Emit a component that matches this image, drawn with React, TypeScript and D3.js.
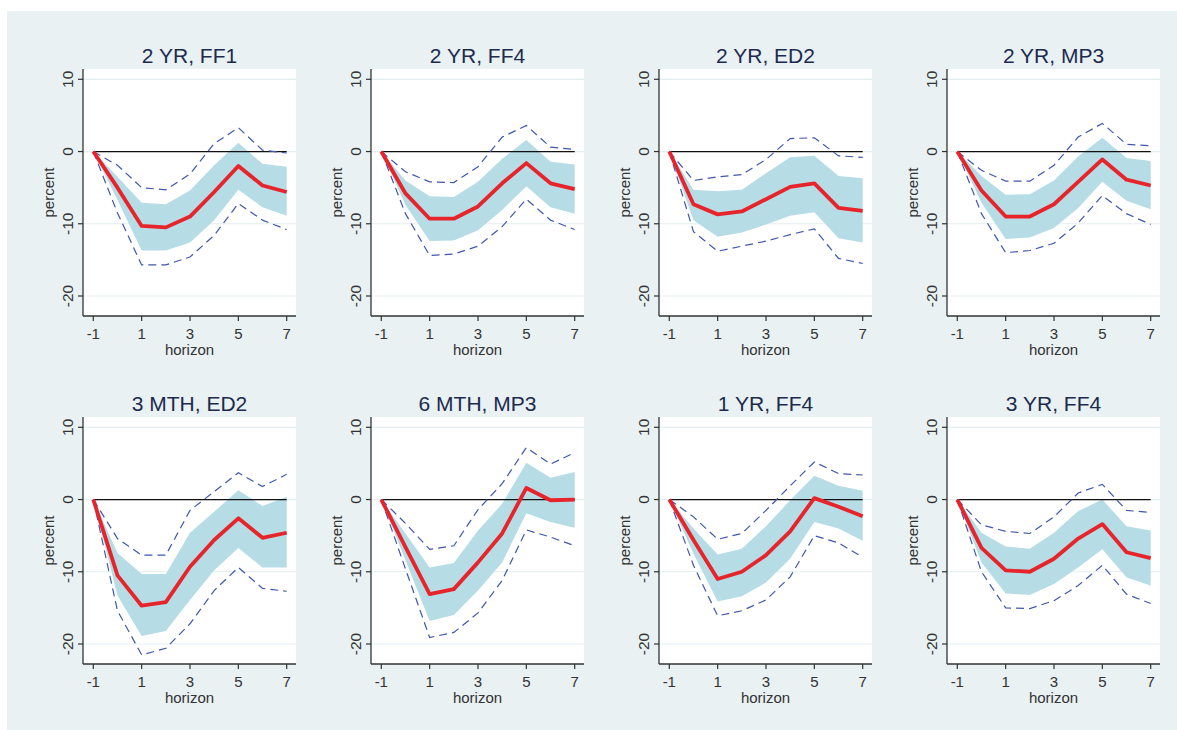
import React, { useEffect, useRef } from "react";
import * as d3 from "d3";

const horizon = [-1, 0, 1, 2, 3, 4, 5, 6, 7];
const xTicks = [-1, 1, 3, 5, 7];
const yTicks = [10, 0, -10, -20];
const titles = [
  "2 YR, FF1", "2 YR, FF4", "2 YR, ED2", "2 YR, MP3",
  "3 MTH, ED2", "6 MTH, MP3", "1 YR, FF4", "3 YR, FF4",
];

// point estimate (red)
const irf = [
  [0, -5.0, -10.3, -10.5, -9.0, -5.6, -2.0, -4.7, -5.6],
  [0, -5.8, -9.3, -9.3, -7.6, -4.4, -1.6, -4.4, -5.2],
  [0, -7.3, -8.7, -8.3, -6.6, -4.9, -4.4, -7.8, -8.2],
  [0, -5.4, -9.0, -9.0, -7.3, -4.2, -1.1, -3.9, -4.7],
  [0, -10.5, -14.7, -14.2, -9.3, -5.6, -2.6, -5.3, -4.6],
  [0, -6.6, -13.1, -12.4, -8.7, -4.7, 1.6, -0.1, 0.0],
  [0, -5.6, -11.0, -10.0, -7.7, -4.4, 0.2, -1.0, -2.3],
  [0, -6.7, -9.8, -10.0, -8.2, -5.4, -3.4, -7.3, -8.1],
];
// shaded band upper
const bandHi = [
  [0, -3.5, -7.1, -7.3, -5.4, -1.9, 1.2, -1.7, -2.1],
  [0, -4.0, -6.2, -6.3, -4.2, -1.0, 1.6, -1.4, -1.8],
  [0, -5.3, -5.5, -5.3, -3.0, -0.8, -0.6, -3.4, -3.7],
  [0, -3.4, -6.0, -5.9, -4.0, -0.7, 1.9, -0.9, -1.3],
  [0, -7.4, -10.3, -10.3, -4.6, -1.7, 1.3, -0.9, 0.4],
  [0, -4.7, -9.4, -8.8, -4.3, -0.6, 5.1, 3.0, 3.8],
  [0, -4.0, -7.6, -6.8, -3.7, -0.1, 3.3, 1.9, 1.2],
  [0, -4.6, -6.5, -6.8, -4.6, -1.6, 0.0, -3.7, -4.3],
];
// shaded band lower
const bandLo = [
  [0, -6.7, -13.7, -13.7, -12.6, -9.5, -5.3, -7.7, -8.9],
  [0, -7.4, -12.4, -12.3, -10.9, -8.1, -4.8, -7.7, -8.6],
  [0, -9.5, -11.8, -11.2, -10.1, -8.9, -8.4, -12.0, -12.6],
  [0, -7.1, -12.1, -11.9, -10.6, -7.8, -4.2, -6.8, -8.0],
  [0, -13.3, -18.9, -18.2, -13.9, -9.8, -6.7, -9.4, -9.4],
  [0, -8.4, -16.8, -16.0, -12.6, -8.7, -1.9, -3.1, -3.9],
  [0, -7.5, -14.1, -13.4, -11.5, -8.2, -3.1, -4.0, -5.7],
  [0, -8.7, -13.0, -13.2, -11.7, -9.4, -6.9, -10.8, -11.9],
];
// dashed upper
const ciHi = [
  [0, -1.9, -5.0, -5.3, -3.1, 1.1, 3.3, 0.2, -0.2],
  [0, -2.8, -4.2, -4.3, -2.1, 2.0, 3.6, 0.6, 0.3],
  [0, -4.0, -3.5, -3.2, -1.1, 1.8, 1.9, -0.6, -0.8],
  [0, -2.6, -4.1, -4.1, -1.9, 2.0, 3.9, 1.0, 0.8],
  [0, -5.4, -7.7, -7.7, -1.5, 1.1, 3.7, 1.8, 3.5],
  [0, -3.3, -6.9, -6.4, -1.4, 2.2, 7.2, 4.9, 6.5],
  [0, -2.4, -5.5, -4.7, -1.5, 1.9, 5.2, 3.6, 3.4],
  [0, -3.5, -4.4, -4.7, -2.4, 0.9, 2.1, -1.5, -1.8],
];
// dashed lower
const ciLo = [
  [0, -8.5, -15.7, -15.7, -14.6, -11.6, -7.2, -9.5, -10.8],
  [0, -8.6, -14.4, -14.2, -13.1, -10.4, -6.6, -9.5, -10.8],
  [0, -11.1, -13.8, -13.1, -12.4, -11.5, -10.7, -14.8, -15.5],
  [0, -8.6, -14.0, -13.7, -12.7, -9.9, -6.1, -8.6, -10.1],
  [0, -15.4, -21.5, -20.6, -17.2, -12.6, -9.4, -12.3, -12.7],
  [0, -9.6, -19.1, -18.4, -15.7, -11.2, -4.2, -5.2, -6.4],
  [0, -9.1, -16.1, -15.4, -13.9, -10.7, -5.0, -6.0, -8.0],
  [0, -10.0, -15.0, -15.1, -14.0, -11.9, -9.1, -13.1, -14.4],
];

const W = 1177;
const H = 730;
const colLeft = [83, 371, 659, 947];
const rowTop = [69, 417];
const plotW = 213;
const plotH = 247;
const FONT = "'Liberation Sans', Arial, sans-serif";

export default function App() {
  const ref = useRef<SVGSVGElement>(null);
  useEffect(() => {
    const svg = d3.select(ref.current);
    svg.selectAll("*").remove();
    svg.append("rect").attr("width", W).attr("height", H).attr("fill", "#ffffff");
    svg.append("rect").attr("x", 7).attr("y", 11).attr("width", W - 7).attr("height", H - 11).attr("fill", "#e9f1f3");

    titles.forEach((title, i) => {
      const left = colLeft[i % 4];
      const top = rowTop[Math.floor(i / 4)];
      const x = d3.scaleLinear().domain([-1, 7]).range([left + 10.3, left + 203.7]);
      const y = d3.scaleLinear().domain([10, -20]).range([top + 10.3, top + 227]);
      const g = svg.append("g");

      g.append("rect").attr("x", left).attr("y", top).attr("width", plotW).attr("height", plotH).attr("fill", "#ffffff");

      // gridlines
      g.selectAll(".grid").data(yTicks).join("line")
        .attr("x1", left).attr("x2", left + plotW)
        .attr("y1", (d) => y(d)).attr("y2", (d) => y(d))
        .attr("stroke", "#e3eef1").attr("stroke-width", 1.2);

      // band
      const area = d3.area<number>()
        .x((d) => x(d))
        .y0((_, j) => y(bandLo[i][j]))
        .y1((_, j) => y(bandHi[i][j]));
      g.append("path").attr("d", area(horizon)).attr("fill", "#b6dce6");

      // zero line
      g.append("line").attr("x1", x(-1)).attr("x2", x(7)).attr("y1", y(0)).attr("y2", y(0))
        .attr("stroke", "#111").attr("stroke-width", 1.2);

      const lineOf = (vals: number[]) =>
        d3.line<number>().x((d) => x(d)).y((_, j) => y(vals[j]))(horizon);

      [ciHi[i], ciLo[i]].forEach((vals) => {
        g.append("path").attr("d", lineOf(vals)).attr("fill", "none")
          .attr("stroke", "#3f57ae").attr("stroke-width", 1.2)
          .attr("stroke-dasharray", "8,5");
      });

      g.append("path").attr("d", lineOf(irf[i])).attr("fill", "none")
        .attr("stroke", "#e8242b").attr("stroke-width", 3.8)
        .attr("stroke-linejoin", "round");

      // axes
      const axisColor = "#333";
      g.append("line").attr("x1", left).attr("x2", left).attr("y1", top).attr("y2", top + plotH)
        .attr("stroke", axisColor).attr("stroke-width", 1.3);
      g.append("line").attr("x1", left).attr("x2", left + plotW).attr("y1", top + plotH).attr("y2", top + plotH)
        .attr("stroke", axisColor).attr("stroke-width", 1.3);

      xTicks.forEach((t) => {
        g.append("line").attr("x1", x(t)).attr("x2", x(t)).attr("y1", top + plotH).attr("y2", top + plotH + 5)
          .attr("stroke", axisColor).attr("stroke-width", 1.2);
        g.append("text").attr("x", x(t)).attr("y", top + plotH + 23)
          .attr("text-anchor", "middle").attr("font-family", FONT).attr("font-size", 15)
          .attr("fill", "#333").text(String(t));
      });
      yTicks.forEach((t) => {
        g.append("line").attr("x1", left - 5).attr("x2", left).attr("y1", y(t)).attr("y2", y(t))
          .attr("stroke", axisColor).attr("stroke-width", 1.2);
        g.append("text")
          .attr("transform", `translate(${left - 10},${y(t)}) rotate(-90)`)
          .attr("text-anchor", "middle").attr("font-family", FONT).attr("font-size", 15.5)
          .attr("fill", "#333").text(String(t));
      });

      g.append("text").attr("x", left + plotW / 2).attr("y", top + plotH + 39)
        .attr("text-anchor", "middle").attr("font-family", FONT).attr("font-size", 15)
        .attr("fill", "#333").text("horizon");
      g.append("text")
        .attr("transform", `translate(${left - 29},${top + plotH / 2}) rotate(-90)`)
        .attr("text-anchor", "middle").attr("font-family", FONT).attr("font-size", 15)
        .attr("fill", "#333").text("percent");

      g.append("text").attr("x", left + plotW / 2).attr("y", top - 6)
        .attr("text-anchor", "middle").attr("font-family", FONT).attr("font-size", 21)
        .attr("fill", "#1c2a4f").text(title);
    });
  }, []);

  return (
    <svg ref={ref} width={W} height={H}
      style={{ position: "absolute", left: 0, top: 0, display: "block" }} />
  );
}
